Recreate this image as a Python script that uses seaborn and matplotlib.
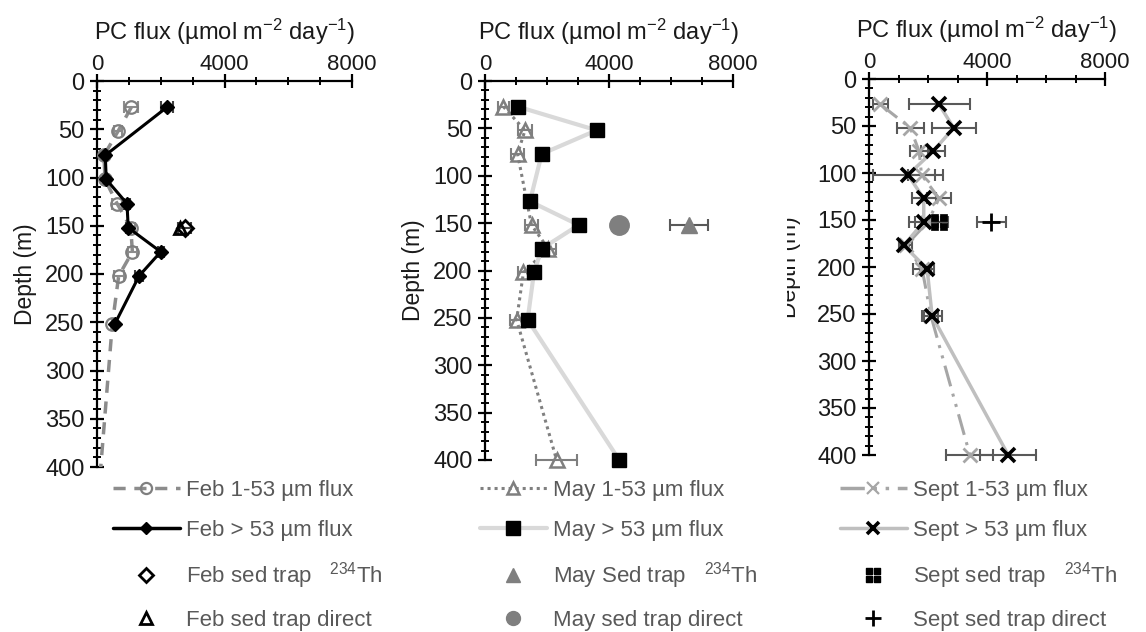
import matplotlib
matplotlib.use("Agg")
import numpy as np
import pandas as pd
import seaborn as sns
import matplotlib.pyplot as plt
from matplotlib.lines import Line2D
from matplotlib.path import Path
from matplotlib.markers import MarkerStyle
from matplotlib.ticker import MultipleLocator
from matplotlib.transforms import Bbox, TransformedBbox

# ---------------- data ----------------
depth = [27, 52, 77, 102, 127, 152, 177, 202, 252, 400]

feb_small_depth = [27, 52, 77, 102, 127, 152, 177, 202, 252, 440]
feb_small = [1080, 660, 220, 250, 630, 1060, 1110, 680, 480, 20]
feb_small_err = [220, 120, 80, 60, 150, 130, 150, 160, 0, 0]
feb_large_depth = [27, 77, 102, 127, 152, 177, 202, 252]
feb_large = [2200, 260, 290, 940, 980, 2000, 1320, 555]
feb_large_err = [180, 60, 60, 90, 80, 90, 120, 60]
feb_trap_th = [2750]
feb_trap_th_err = [200]
feb_trap_direct = [2600]
feb_trap_depth = [152]

may_small_depth = [27, 52, 77, 152, 177, 202, 252, 400]
may_small = [590, 1290, 1050, 1500, 2040, 1240, 1020, 2310]
may_small_err = [170, 230, 200, 220, 250, 160, 200, 650]
may_large = [1050, 3600, 1830, 1450, 3020, 1830, 1580, 1375, 4330]
may_large_depth = [27, 52, 77, 127, 152, 177, 202, 252, 400]
may_large_err = [60, 90, 60, 60, 90, 110, 60, 60, 60]
may_trap_th = [6580]
may_trap_th_err = [600]
may_trap_direct = [4320]
may_trap_direct_err = [200]
may_trap_depth = [152]

sept_small = [385, 1400, 1700, 1780, 2375, 2000, 1250, 1800, 2100, 3420]
sept_small_err = [250, 450, 300, 450, 400, 450, 200, 300, 250, 800]
sept_large = [2375, 2870, 2170, 1320, 1855, 1855, 1180, 1970, 2140, 4720]
sept_large_err = [1035, 750, 400, 1190, 400, 500, 180, 250, 350, 950]
sept_trap_th = [2375]
sept_trap_th_err = [300]
sept_trap_direct = [4150]
sept_trap_direct_err = [500]
sept_trap_depth = [152]

xlabel = "PC flux (µmol m$^{-2}$ day$^{-1}$)"
ylabel = "Depth (m)"
xticks = [0, 4000, 8000]
yticks = [0, 50, 100, 150, 200, 250, 300, 350, 400]

# ---------------- style ----------------
sns.set_theme(style="white")
plt.rcParams["font.family"] = ["Liberation Sans", "DejaVu Sans"]
plt.rcParams["mathtext.fontset"] = "custom"
plt.rcParams["mathtext.rm"] = "Liberation Sans"
plt.rcParams["mathtext.default"] = "regular"

fig = plt.figure(figsize=(11.46, 6.32), dpi=100)
W, H = 1146, 632


def axes_px(x0, x1, y0, y1):
    return fig.add_axes([x0 / W, 1 - y1 / H, (x1 - x0) / W, (y1 - y0) / H])


ax1 = axes_px(97, 352, 81, 467)
ax2 = axes_px(485, 733, 81, 460)
ax3 = axes_px(869, 1105, 79, 455)

for ax in (ax1, ax2, ax3):
    ax.set_xlim(0, 8000)
    ax.set_ylim(400, 0)
    ax.xaxis.tick_top()
    ax.xaxis.set_label_position("top")
    ax.set_xticks(xticks)
    ax.set_yticks(yticks)
    ax.xaxis.set_minor_locator(MultipleLocator(1000))
    ax.yaxis.set_minor_locator(MultipleLocator(10))
    for s in ("right", "bottom"):
        ax.spines[s].set_visible(False)
    for s in ("left", "top"):
        ax.spines[s].set_color("black")
        ax.spines[s].set_linewidth(1.6)
    ax.tick_params(which="major", direction="inout", length=10, width=1.6,
                   colors="black", labelcolor="#1a1a1a",
                   top=True, left=True, bottom=False, right=False, pad=4)
    ax.tick_params(axis="x", which="major", labelsize=16, pad=-0.5)
    ax.tick_params(axis="y", which="major", labelsize=17)
    ax.tick_params(which="minor", direction="inout", length=6, width=1.4,
                   colors="black", top=True, left=True, bottom=False, right=False)
    ax.set_xlabel(xlabel, fontsize=17, color="#1a1a1a", labelpad=10)
    ax.set_ylabel(ylabel, fontsize=16.5, color="#1a1a1a", labelpad=6)
    ax.set_facecolor("none")


def errbar(ax, x, y, err, color, clip=False):
    ax.errorbar(x, y, xerr=err, fmt="none", ecolor=color, elinewidth=1.5,
                capsize=4, capthick=1.5, zorder=2, clip_on=clip)


def line(ax, x, y, z=3, clip=False, **kw):
    sns.lineplot(x=np.asarray(x, float), y=np.asarray(y, float), sort=False,
                 estimator=None, ax=ax, legend=False, zorder=z, clip_on=clip, **kw)


# ---------------- Feb ----------------
errbar(ax1, feb_small, feb_small_depth, feb_small_err, "#8c8c8c", clip=True)
line(ax1, feb_small, feb_small_depth, color="#8c8c8c", linewidth=2.5,
     linestyle=(0, (3.5, 2.5)), marker="o", markersize=9, markerfacecolor="none",
     markeredgecolor="#7f7f7f", markeredgewidth=1.6, z=3, clip=True)
errbar(ax1, feb_large, feb_large_depth, feb_large_err, "#404040")
line(ax1, feb_large, feb_large_depth, color="black", linewidth=2.2,
     marker="D", markersize=7, markerfacecolor="black", markeredgecolor="black",
     markeredgewidth=1, z=4)
errbar(ax1, feb_trap_th, feb_trap_depth, feb_trap_th_err, "#404040")
line(ax1, feb_trap_th, feb_trap_depth, color="black", linestyle="none",
     marker="D", markersize=8, markerfacecolor="none", markeredgecolor="black",
     markeredgewidth=2, z=5)
line(ax1, feb_trap_direct, feb_trap_depth, color="black", linestyle="none",
     marker="^", markersize=9, markerfacecolor="none", markeredgecolor="black",
     markeredgewidth=2, z=5)

# ---------------- May ----------------
errbar(ax2, may_small, may_small_depth, may_small_err, "#7f7f7f")
line(ax2, may_small, may_small_depth, color="#808080", linewidth=2.2,
     linestyle=(0, (1, 1.3)), marker="^", markersize=10, markerfacecolor="none",
     markeredgecolor="#7f7f7f", markeredgewidth=1.8, z=3)
errbar(ax2, may_large, may_large_depth, may_large_err, "#404040")
line(ax2, may_large, may_large_depth, color="#d9d9d9", linewidth=3,
     marker="s", markersize=10, markerfacecolor="black", markeredgecolor="black",
     markeredgewidth=1, z=4)
errbar(ax2, may_trap_th, may_trap_depth, may_trap_th_err, "#595959")
line(ax2, may_trap_th, may_trap_depth, color="#7f7f7f", linestyle="none",
     marker="^", markersize=12, markerfacecolor="#7f7f7f", markeredgecolor="#7f7f7f",
     markeredgewidth=1, z=5)
errbar(ax2, may_trap_direct, may_trap_depth, may_trap_direct_err, "#595959")
line(ax2, may_trap_direct, may_trap_depth, color="#7f7f7f", linestyle="none",
     marker="o", markersize=14, markerfacecolor="#7f7f7f", markeredgecolor="#7f7f7f",
     markeredgewidth=1, z=5)

# ---------------- Sept ----------------
quad_verts, quad_codes = [], []
for cx, cy in [(-0.55, -0.55), (0.55, -0.55), (-0.55, 0.55), (0.55, 0.55)]:
    s = 0.42
    quad_verts += [(cx - s, cy - s), (cx + s, cy - s), (cx + s, cy + s),
                   (cx - s, cy + s), (cx - s, cy - s)]
    quad_codes += [Path.MOVETO, Path.LINETO, Path.LINETO, Path.LINETO, Path.CLOSEPOLY]
quad_marker = MarkerStyle(Path(quad_verts, quad_codes))

errbar(ax3, sept_small, depth, sept_small_err, "#595959")
line(ax3, sept_small, depth, color="#a6a6a6", linewidth=2.2,
     linestyle=(0, (7, 2.5, 1, 2.5, 1, 2.5)), marker="x", markersize=10,
     markerfacecolor="#a6a6a6", markeredgecolor="#a6a6a6", markeredgewidth=2, z=3)
errbar(ax3, sept_large, depth, sept_large_err, "#595959")
line(ax3, sept_large, depth, color="#bfbfbf", linewidth=2.5,
     marker="x", markersize=10, markerfacecolor="black", markeredgecolor="black",
     markeredgewidth=2.6, z=4)
errbar(ax3, sept_trap_th, sept_trap_depth, sept_trap_th_err, "#595959")
line(ax3, sept_trap_th, sept_trap_depth, color="black", linestyle="none",
     marker=quad_marker, markersize=11, markerfacecolor="black",
     markeredgecolor="black", markeredgewidth=0.5, z=5)
errbar(ax3, sept_trap_direct, sept_trap_depth, sept_trap_direct_err, "#595959")
line(ax3, sept_trap_direct, sept_trap_depth, color="black", linestyle="none",
     marker="+", markersize=13, markerfacecolor="black", markeredgecolor="black",
     markeredgewidth=2, z=5)

# third y label sits further left and is partly cut, as in the reference
ax3.yaxis.set_label_coords((801 - 869) / 236, 0.5)
lab3 = ax3.yaxis.label
lab3.set_clip_box(TransformedBbox(Bbox([[787 / W, 0], [1, 1]]), fig.transFigure))
lab3.set_clip_on(True)

# ---------------- legends ----------------
feb_h = [
    Line2D([], [], color="#8c8c8c", lw=2.5, ls=(0, (3.5, 2.5)), marker="o", ms=8,
           mfc="none", mec="#7f7f7f", mew=1.6),
    Line2D([], [], color="black", lw=2.5, marker="D", ms=6, mfc="black", mec="black"),
    Line2D([], [], color="black", ls="none", marker="D", ms=7, mfc="none", mec="black", mew=2),
    Line2D([], [], color="black", ls="none", marker="^", ms=8, mfc="none", mec="black", mew=2),
]
feb_l = ["Feb 1-53 µm flux", "Feb > 53 µm flux", "Feb sed trap   $^{234}$Th",
         "Feb sed trap direct"]
may_h = [
    Line2D([], [], color="#808080", lw=2.2, ls=(0, (1, 1.3)), marker="^", ms=9,
           mfc="none", mec="#7f7f7f", mew=1.8),
    Line2D([], [], color="#d9d9d9", lw=3, marker="s", ms=10, mfc="black", mec="black"),
    Line2D([], [], color="#7f7f7f", ls="none", marker="^", ms=10, mfc="#7f7f7f", mec="#7f7f7f"),
    Line2D([], [], color="#7f7f7f", ls="none", marker="o", ms=10, mfc="#7f7f7f", mec="#7f7f7f"),
]
may_l = ["May 1-53 µm flux", "May > 53 µm flux", "May Sed trap   $^{234}$Th",
         "May sed trap direct"]
sept_h = [
    Line2D([], [], color="#a6a6a6", lw=2.5, ls=(0, (7, 2.5, 1, 2.5, 1, 2.5)), marker="x",
           ms=9, mfc="#a6a6a6", mec="#a6a6a6", mew=1.6),
    Line2D([], [], color="#bfbfbf", lw=2.5, marker="x", ms=8, mfc="black", mec="black", mew=2.6),
    Line2D([], [], color="black", ls="none", marker=quad_marker, ms=10, mfc="black", mec="black"),
    Line2D([], [], color="black", ls="none", marker="+", ms=11, mec="black", mew=2),
]
sept_l = ["Sept 1-53 µm flux", "Sept > 53 µm flux", "Sept sed trap   $^{234}$Th",
          "Sept sed trap direct"]

for ax, h, l, x0 in ((ax1, feb_h, feb_l, 113), (ax2, may_h, may_l, 480),
                     (ax3, sept_h, sept_l, 840)):
    ax.legend(h, l, loc="upper left", bbox_to_anchor=(x0 / W, 1 - 480 / H),
              bbox_transform=fig.transFigure, frameon=False, fontsize=16,
              labelcolor="#595959", handlelength=3.0, handletextpad=0.3,
              labelspacing=0.86, borderpad=0, borderaxespad=0)

fig.savefig("out.png", dpi=100)
